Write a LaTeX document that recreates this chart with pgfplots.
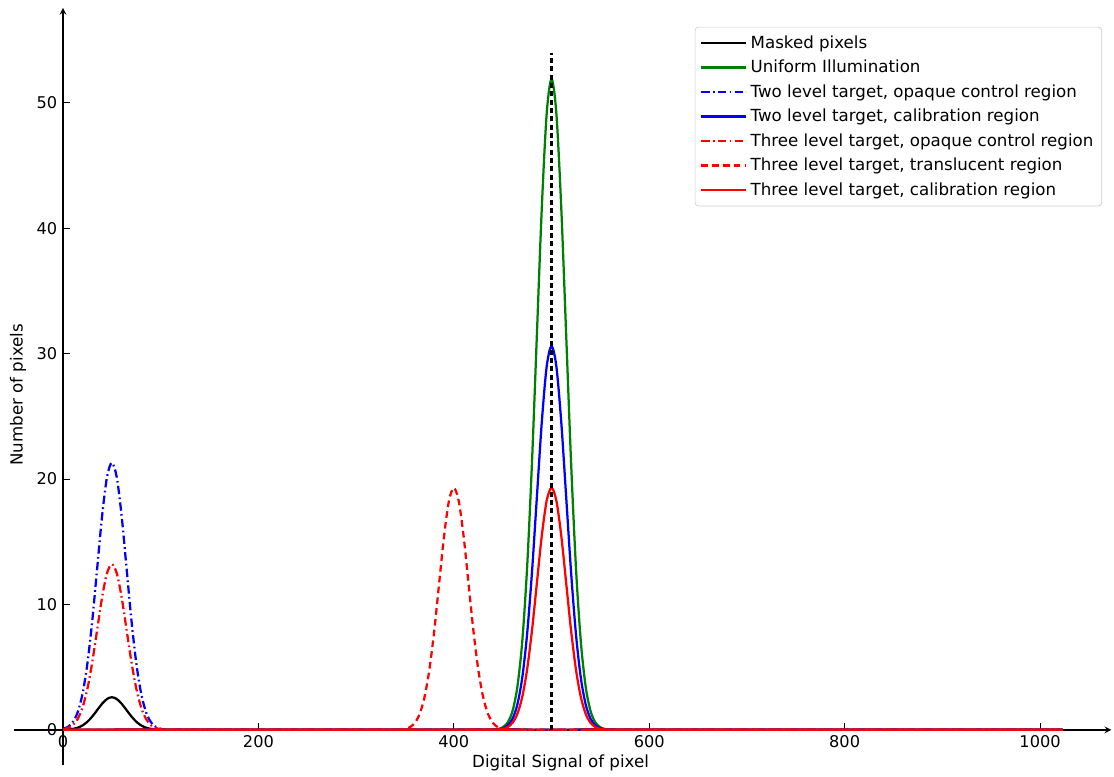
\documentclass[border=0pt]{standalone}
\usepackage{fontspec}
\setmainfont{DejaVu Sans}
\usepackage{pgfplots}
\pgfplotsset{compat=1.18}
\definecolor{mplgreen}{rgb}{0,0.5,0}
\begin{document}
\begin{tikzpicture}
\begin{axis}[
  x=0.5862pt, y=7.524pt,
  axis lines=middle,
  axis line style={line width=0.8pt, -stealth},
  xmin=-50, xmax=1073, ymin=-2.8, ymax=57.57,
  xtick={0,200,...,1000}, ytick={0,10,...,50},
  hide obscured x ticks=false, hide obscured y ticks=false,
  minor tick num=0,
  tick align=inside,
  major tick length=4pt,
  tick style={black, line width=0.6pt},
  /pgf/number format/assume math mode=true,
  /pgf/number format/1000 sep={},
  every tick label/.append style={font=\fontsize{9.7}{11}\selectfont},
  xlabel={Digital Signal of pixel},
  ylabel={Number of pixels},
  every axis x label/.style={at={(axis description cs:0.498,0.003)}, anchor=center, font=\fontsize{10}{12}\selectfont},
  every axis y label/.style={at={(axis description cs:0.0036,0.489)}, anchor=center, rotate=90, font=\fontsize{10}{12}\selectfont},
  clip=false,
  legend cell align=left,
  legend image code/.code={\draw[#1] (0pt,0pt) -- (21pt,0pt); \path (0pt,0pt) -- (27pt,0pt);},
  legend style={at={(axis description cs:0.9915,0.975)}, anchor=north east,
    draw=black!20, rounded corners=2pt, font=\fontsize{10}{12}\selectfont,
    row sep=1.6pt, inner xsep=3pt, inner ysep=3pt},
  every axis plot/.append style={smooth, tension=0.5},
]
\path (axis cs:-64.5,-3.51) rectangle (axis cs:1075.7,58.2);

\addplot[black, line width=1.35pt] coordinates {(0,0.0101)(5,0.0289)(10,0.0743)(15,0.1708)(20,0.3519)(25,0.6483)(30,1.0689)(35,1.5770)(40,2.0819)(45,2.4595)(50,2.6)(55,2.4595)(60,2.0819)(65,1.5770)(70,1.0689)(75,0.6483)(80,0.3519)(85,0.1708)(90,0.0743)(95,0.0289)(100,0.0101)(105,0.0031)(110,0.0009)(1023,0)};
\addlegendentry{Masked pixels}

\addplot[mplgreen, line width=1.35pt] coordinates {(0,0)(440,0.018)(445,0.062)(450,0.201)(455,0.577)(460,1.482)(465,3.410)(470,7.024)(475,12.941)(480,21.337)(485,31.479)(490,41.558)(495,49.095)(500,51.9)(505,49.095)(510,41.558)(515,31.479)(520,21.337)(525,12.941)(530,7.024)(535,3.410)(540,1.482)(545,0.577)(550,0.201)(555,0.062)(560,0.018)(1023,0)};
\addlegendentry{Uniform Illumination}

\addplot[blue, line width=1.35pt, dash pattern=on 5pt off 2pt on 1pt off 2pt] coordinates {(0,0.082)(5,0.237)(10,0.608)(15,1.400)(20,2.883)(25,5.311)(30,8.757)(35,12.919)(40,17.056)(45,20.149)(50,21.3)(55,20.149)(60,17.056)(65,12.919)(70,8.757)(75,5.311)(80,2.883)(85,1.400)(90,0.608)(95,0.237)(100,0.082)(105,0.026)(110,0.007)(1023,0)};
\addlegendentry{Two level target, opaque control region}

\addplot[blue, line width=1.35pt] coordinates {(0,0)(440,0.010)(445,0.037)(450,0.118)(455,0.340)(460,0.874)(465,2.011)(470,4.141)(475,7.630)(480,12.580)(485,18.560)(490,24.503)(495,28.946)(500,30.6)(505,28.946)(510,24.503)(515,18.560)(520,12.580)(525,7.630)(530,4.141)(535,2.011)(540,0.874)(545,0.340)(550,0.118)(555,0.037)(560,0.010)(1023,0)};
\addlegendentry{Two level target, calibration region}

\addplot[red, line width=1.35pt, dash pattern=on 5pt off 2pt on 1pt off 2pt] coordinates {(0,0.051)(5,0.147)(10,0.377)(15,0.867)(20,1.786)(25,3.291)(30,5.427)(35,8.006)(40,10.570)(45,12.487)(50,13.2)(55,12.487)(60,10.570)(65,8.006)(70,5.427)(75,3.291)(80,1.786)(85,0.867)(90,0.377)(95,0.147)(100,0.051)(105,0.016)(110,0.004)(1023,0)};
\addlegendentry{Three level target, opaque control region}

\addplot[red, line width=1.35pt, dash pattern=on 4pt off 2.5pt] coordinates {(0,0)(340,0.007)(345,0.023)(350,0.075)(355,0.214)(360,0.551)(365,1.268)(370,2.612)(375,4.812)(380,7.934)(385,11.706)(390,15.454)(395,18.257)(400,19.3)(405,18.257)(410,15.454)(415,11.706)(420,7.934)(425,4.812)(430,2.612)(435,1.268)(440,0.551)(445,0.214)(450,0.075)(455,0.023)(460,0.007)(1023,0)};
\addlegendentry{Three level target, translucent region}

\addplot[red, line width=1.35pt] coordinates {(0,0)(440,0.007)(445,0.023)(450,0.075)(455,0.214)(460,0.551)(465,1.268)(470,2.612)(475,4.812)(480,7.934)(485,11.706)(490,15.454)(495,18.257)(500,19.3)(505,18.257)(510,15.454)(515,11.706)(520,7.934)(525,4.812)(530,2.612)(535,1.268)(540,0.551)(545,0.214)(550,0.075)(555,0.023)(560,0.007)(1023,0)};
\addlegendentry{Three level target, calibration region}

\addplot[black, line width=1.3pt, dash pattern=on 3pt off 2pt, forget plot, sharp plot] coordinates {(500,0)(500,54)};
\end{axis}
\end{tikzpicture}
\end{document}
